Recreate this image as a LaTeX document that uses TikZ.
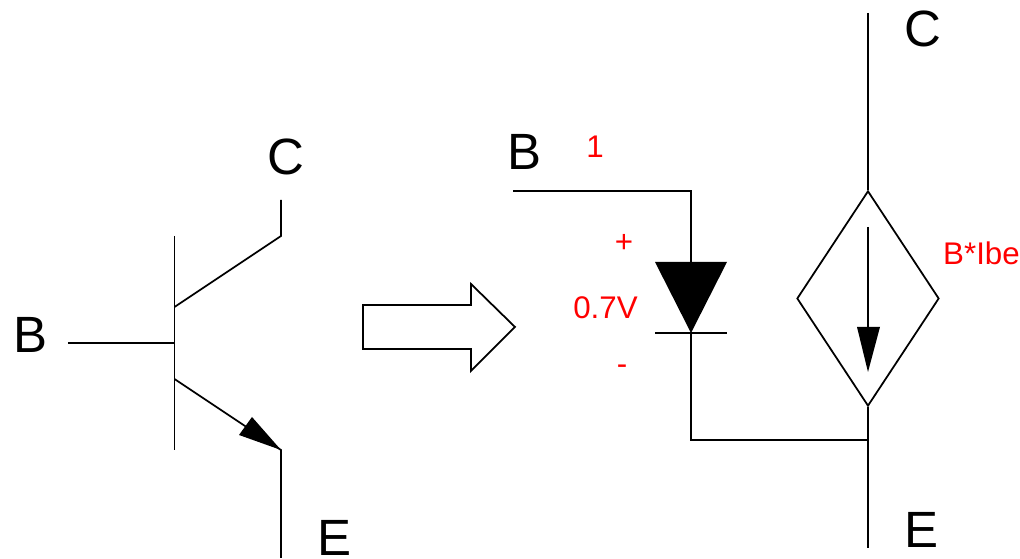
\documentclass[tikz,border=0pt]{standalone}
\usepackage{fontspec}
\setmainfont{Liberation Sans}
\usetikzlibrary{shapes.geometric}

\begin{document}
\begin{tikzpicture}[x=0.01cm,y=-0.01cm,line width=0.5pt,
    pinlabel/.style={anchor=base,inner sep=0pt,font=\fontsize{14.5}{16}\selectfont},
    vallabel/.style={anchor=base,inner sep=0pt,text=red,font=\fontsize{8.9}{11}\selectfont}]
   \useasboundingbox (0,0) rectangle (1020,559);

   % transistor
   \coordinate (bar_t) at (174.5,236);
   \coordinate (bar_b) at (174.5,450);
   \coordinate (base) at (174.5,343);
   \coordinate (base_l) at (68,343);
   \coordinate (col_a) at (174.5,307);
   \coordinate (col_b) at (281,236);
   \coordinate (col_c) at (281,200);
   \coordinate (emi_a) at (174.5,379);
   \coordinate (emi_b) at (281,450);
   \coordinate (emi_c) at (281,558);
   \coordinate (emi_h1) at (252,417);
   \coordinate (emi_h2) at (239,435);
   \draw (bar_t) -- (bar_b);
   \draw (base_l) -- (base);
   \draw (col_a) -- (col_b) -- (col_c);
   \draw (emi_a) -- (emi_b) -- (emi_c);
   \fill (emi_b) -- (emi_h1) -- (emi_h2) -- cycle;
   \node[pinlabel] (t_b) at (30.5,353) {B};
   \node[pinlabel] (t_c) at (286,175) {C};
   \node[pinlabel] (t_e) at (335,556) {E};

   % big arrow
   \draw (363,305) -- (471,305) -- (471,284) -- (515,327) -- (471,371) -- (471,349) -- (363,349) -- cycle;

   % diode
   \coordinate (b_in) at (513,191);
   \coordinate (b_cr) at (691,191);
   \coordinate (d_top) at (691,262);
   \coordinate (d_tl) at (655,262);
   \coordinate (d_tr) at (727,262);
   \coordinate (d_tip) at (691,333);
   \coordinate (d_bl) at (655,333);
   \coordinate (d_br) at (727,333);
   \coordinate (d_cr) at (691,440);
   \coordinate (junc) at (868,440);
   \draw (b_in) -- (b_cr) -- (d_top);
   \fill (d_tl) -- (d_tr) -- (d_tip) -- cycle;
   \draw (d_bl) -- (d_br);
   \draw (d_tip) -- (d_cr) -- (junc);

   % current source
   \node[diamond,draw,aspect=0.66,inner sep=0pt,minimum width=1.42cm,minimum height=2.15cm] (src) at (868,298.5) {};
   \coordinate (c_top) at (868,13);
   \coordinate (e_bot) at (868,548);
   \coordinate (i_top) at (868,227);
   \coordinate (i_hl) at (857,327);
   \coordinate (i_hr) at (880,327);
   \coordinate (i_tip) at (868,372);
   \coordinate (i_hm) at (868,327);
   \draw (c_top) -- (src.north);
   \draw (src.south) -- (e_bot);
   \draw (i_top) -- (i_hm);
   \fill (i_hl) -- (i_hr) -- (i_tip) -- cycle;

   \node[pinlabel] (r_b) at (524.5,170) {B};
   \node[pinlabel] (r_c) at (923,47) {C};
   \node[pinlabel] (r_e) at (922,548) {E};
   \node[vallabel] (n_one) at (595,158) {1};
   \node[vallabel] (n_plus) at (624,253) {+};
   \node[vallabel] (n_volt) at (605.5,319) {0.7V};
   \node[vallabel] (n_minus) at (622,375) {-};
   \node[vallabel] (n_gain) at (981.5,265) {B*Ibe};
\end{tikzpicture}
\end{document}
